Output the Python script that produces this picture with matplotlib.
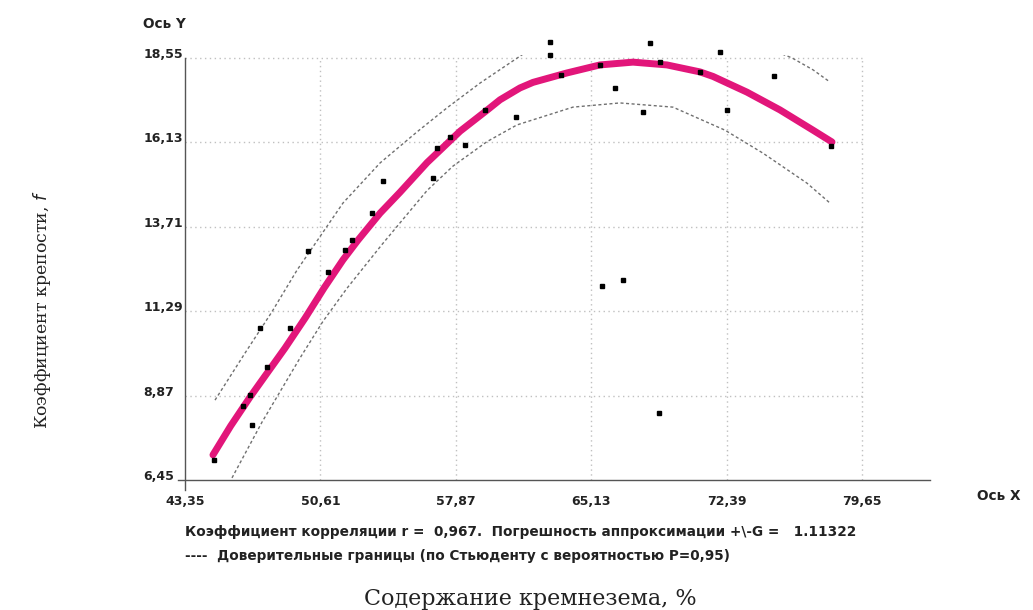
import matplotlib
matplotlib.use("Agg")
import matplotlib.pyplot as plt
from matplotlib.patches import Rectangle

W, H = 1033, 610

# --- Data -------------------------------------------------------------------
x_ticks = [43.35, 50.61, 57.87, 65.13, 72.39, 79.65]
x_labels = ["43,35", "50,61", "57,87", "65,13", "72,39", "79,65"]
y_ticks = [6.45, 8.87, 11.29, 13.71, 16.13, 18.55]
y_labels = ["6,45", "8,87", "11,29", "13,71", "16,13", "18,55"]

# regression curve
fit_x = [44.85, 45.80, 46.84, 47.80, 48.71, 49.80, 50.80, 51.82, 52.63, 53.81,
         54.88, 56.33, 57.02, 58.10, 59.54, 60.24, 61.31, 62.01, 63.83, 65.60,
         67.37, 69.19, 70.96, 71.66, 73.48, 75.25, 77.02, 78.04]
fit_y = [7.17, 8.00, 8.83, 9.55, 10.23, 11.10, 11.95, 12.76, 13.33, 14.10,
         14.70, 15.55, 15.90, 16.45, 17.05, 17.35, 17.69, 17.85, 18.12, 18.35,
         18.43, 18.35, 18.15, 18.02, 17.57, 17.06, 16.48, 16.14]

# confidence bands (Student, P=0.95)
up_x = [44.96, 46.57, 48.01, 49.36, 51.82, 53.81, 55.79, 57.40, 59.17, 60.78,
        62.00, 64.00, 67.40, 71.00, 74.00, 75.90, 77.02, 77.93]
up_y = [8.74, 10.09, 11.27, 12.47, 14.39, 15.54, 16.43, 17.12, 17.83, 18.41,
        18.85, 19.30, 19.55, 19.40, 18.95, 18.55, 18.21, 17.86]
lo_x = [45.87, 47.48, 49.52, 50.75, 52.04, 53.91, 55.00, 56.33, 57.72, 59.54,
        61.15, 64.15, 66.67, 69.51, 72.30, 74.34, 76.70, 77.93]
lo_y = [6.51, 8.11, 9.95, 11.00, 11.95, 13.20, 13.90, 14.75, 15.45, 16.15,
        16.63, 17.14, 17.26, 17.14, 16.48, 15.82, 14.96, 14.39]

# observations
obs_x = [44.91, 46.46, 46.84, 46.94, 47.37, 47.75, 48.98, 49.95, 51.02, 51.93,
         52.30, 53.40, 53.97, 56.65, 56.86, 57.56, 58.36, 59.44, 61.10, 62.92,
         62.92, 63.50, 65.60, 65.71, 66.41, 66.83, 67.91, 68.28, 68.75, 68.80,
         70.96, 72.04, 72.41, 74.93, 77.99]
obs_y = [7.02, 8.57, 8.89, 8.03, 10.81, 9.69, 10.81, 13.02, 12.41, 13.04,
         13.33, 14.10, 15.02, 15.11, 15.97, 16.28, 16.05, 17.06, 16.86, 19.01,
         18.63, 18.05, 18.35, 12.01, 17.69, 12.18, 17.00, 18.98, 8.37, 18.43,
         18.15, 18.72, 17.06, 18.03, 16.03]

# --- Figure ----------------------------------------------------------------
fig = plt.figure(figsize=(W / 100, H / 100), dpi=100)
ax = fig.add_axes([176.6 / W, 1 - 492.2 / H, 759.1 / W, 463.9 / H])
ax.set_xlim(42.9, 83.6)
ax.set_ylim(6.1, 19.4)
ax.patch.set_alpha(0)

# dotted grid, only inside the tick range
grid_kw = dict(colors="#c0c0c0", linestyles=(0, (1, 2.5)), linewidth=1.0, zorder=1)
ax.hlines(y_ticks[1:], x_ticks[0], x_ticks[-1], **grid_kw)
ax.vlines(x_ticks[1:], y_ticks[0], y_ticks[-1], **grid_kw)

# confidence bands, clipped at the top of the scale
clip = Rectangle((x_ticks[0], y_ticks[0]), x_ticks[-1] - x_ticks[0],
                 y_ticks[-1] - y_ticks[0] + 0.08, transform=ax.transData)
for bx, by in [(up_x, up_y), (lo_x, lo_y)]:
    ln, = ax.plot(bx, by, color="#707070", lw=1.0, ls=(0, (2.2, 1.8)), zorder=2)
    ln.set_clip_path(clip)

ax.plot(fit_x, fit_y, color="#e2167a", lw=5.0, solid_capstyle="round",
        solid_joinstyle="round", zorder=3)
ax.plot(obs_x, obs_y, ls="none", marker="s", ms=2.4, color="black", zorder=4,
        clip_on=False)

# axes lines crossing at (43.35, 6.45)
for s in ["top", "right"]:
    ax.spines[s].set_visible(False)
ax.spines["left"].set_position(("data", x_ticks[0]))
ax.spines["bottom"].set_position(("data", y_ticks[0]))
ax.spines["left"].set_bounds(6.15, y_ticks[-1])
ax.spines["bottom"].set_bounds(43.0, 83.3)
for s in ["left", "bottom"]:
    ax.spines[s].set_color("#555555")
    ax.spines[s].set_linewidth(1.0)

tick_font = dict(family="DejaVu Sans", size=9, weight="bold", color="#222222")
ax.set_xticks(x_ticks)
ax.set_xticklabels(x_labels, **tick_font)
ax.set_yticks(y_ticks)
ax.set_yticklabels(y_labels, **tick_font)
ax.tick_params(axis="both", length=0)
ax.tick_params(axis="x", pad=11)
ax.tick_params(axis="y", pad=30)
for lab in ax.get_yticklabels():
    lab.set_ha("left")
    lab.set_va("baseline")

small = dict(family="DejaVu Sans", size=9.8, weight="bold", color="#222222")
fig.text(143 / W, 1 - 24 / H, "Ось Y", va="center", ha="left", **small)
fig.text(977 / W, 1 - 496 / H, "Ось X", va="center", ha="left", **small)
fig.text(185 / W, 1 - 532 / H,
         "Коэффициент корреляции r =  0,967.  Погрешность аппроксимации +\\-G =   1.11322",
         va="center", ha="left", **small)
fig.text(185 / W, 1 - 556 / H,
         "----  Доверительные границы (по Стьюденту с вероятностью P=0,95)",
         va="center", ha="left", **small)

fig.text(530 / W, 1 - 599 / H, "Содержание кремнезема, %", ha="center",
         va="center", family="DejaVu Serif", size=16, color="#222222")
fig.text(42 / W, 1 - 310 / H, "Коэффициент крепости, $f$", ha="center",
         va="center", rotation=90, family="DejaVu Serif", size=12.5,
         color="#222222")

fig.savefig("out.png", dpi=100)
